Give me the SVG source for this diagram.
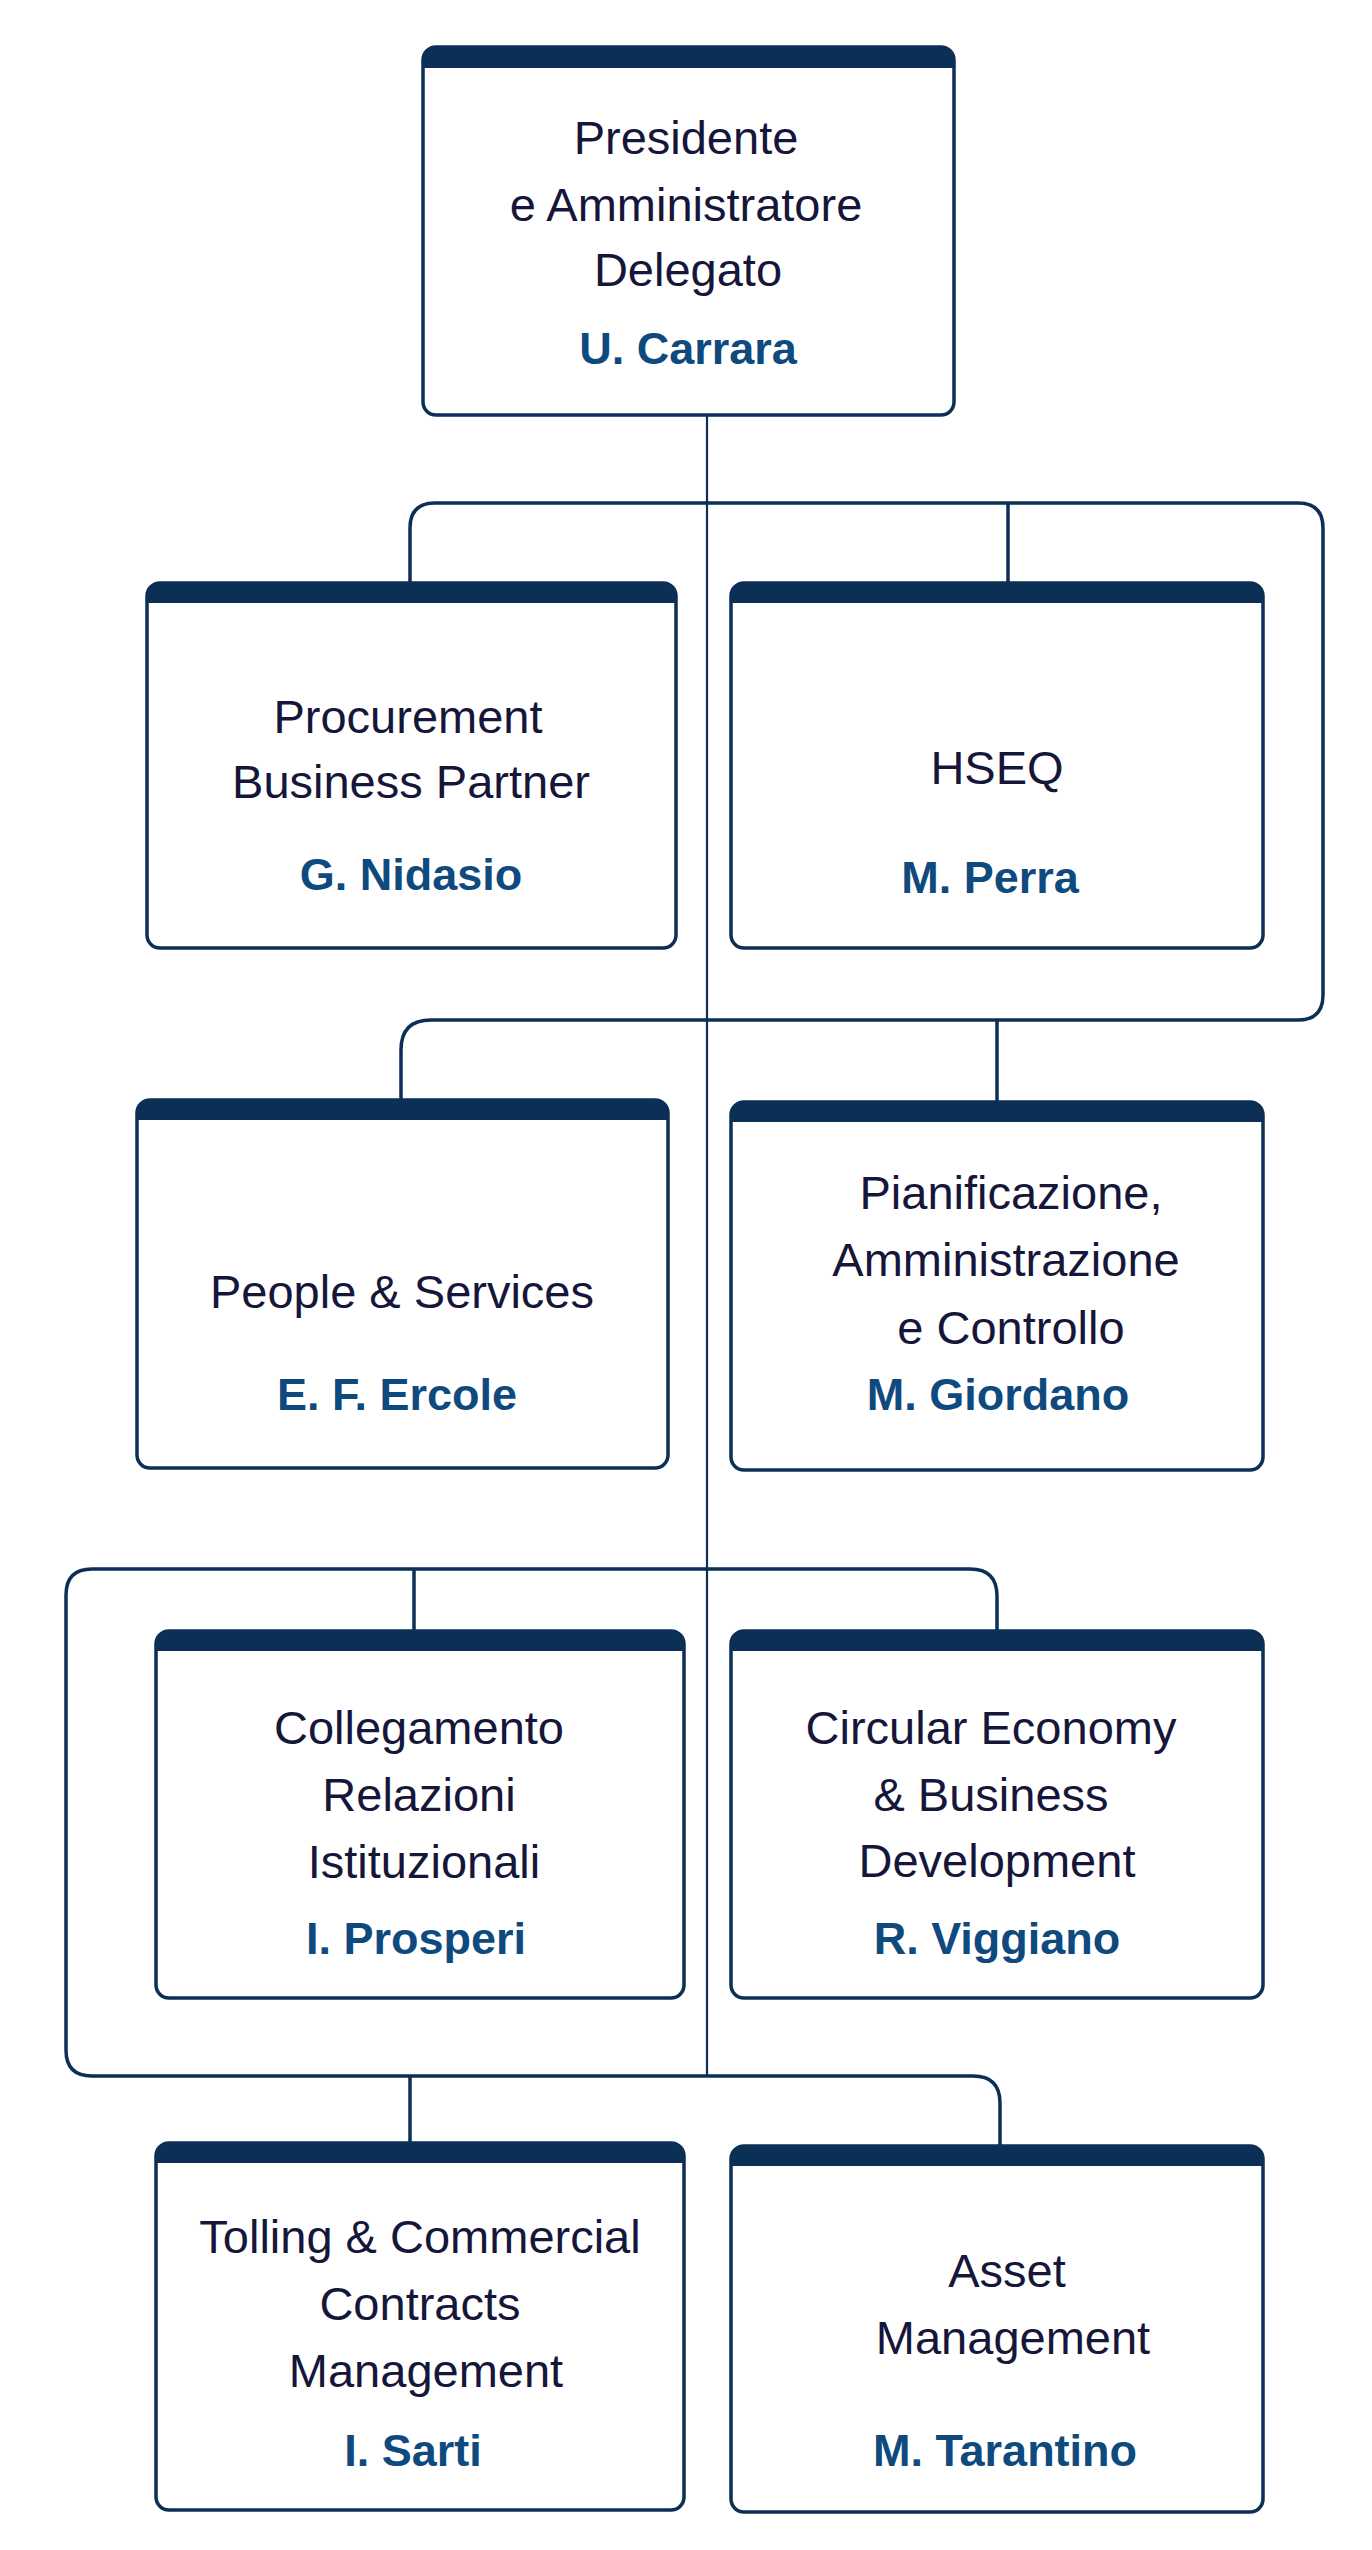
<svg xmlns="http://www.w3.org/2000/svg" width="1372" height="2550" viewBox="0 0 1372 2550">
<style>
.box{fill:#ffffff;stroke:#0b2f55;stroke-width:3.5}
.hdr{fill:#0b2f55}
.lbl{font-family:"Liberation Sans",Arial,sans-serif;font-size:47px;fill:#16163a;text-anchor:middle}
.nm{font-family:"Liberation Sans",Arial,sans-serif;font-size:45px;font-weight:bold;fill:#0f4a7e;text-anchor:middle}
.ln{fill:none;stroke:#0b2f55;stroke-width:3.5}
.main{fill:none;stroke:#0b2f55;stroke-width:2.2}
</style>
<rect width="1372" height="2550" fill="#ffffff"/>
<g id="connectors">
<path class="main" d="M707,415 V2076"/>
<path class="ln" d="M410,583 V528 Q410,503 435,503 H1298 Q1323,503 1323,528 V995 Q1323,1020 1298,1020 H431 Q401,1020 401,1050 V1100"/>
<path class="ln" d="M1008,503 V583"/>
<path class="ln" d="M997,1020 V1102"/>
<path class="ln" d="M414,1569 V1631"/>
<path class="ln" d="M997,1631 V1596 Q997,1569 970,1569 H92 Q66,1569 66,1595 V2050 Q66,2076 92,2076 H973 Q1000,2076 1000,2103 V2146"/>
<path class="ln" d="M410,2076 V2143"/>
</g>
<g id="n-presidente">
<rect class="box" x="423" y="47" width="531" height="368" rx="13"/>
<path class="hdr" d="M423,68 V60 Q423,47 436,47 H941 Q954,47 954,60 V68 Z"/>
<text class="lbl" x="686" y="154">Presidente</text>
<text class="lbl" x="686" y="221">e Amministratore</text>
<text class="lbl" x="688" y="286">Delegato</text>
<text class="nm" x="688" y="364">U. Carrara</text>
</g>
<g id="n-procurement">
<rect class="box" x="147" y="583" width="529" height="365" rx="13"/>
<path class="hdr" d="M147,603 V596 Q147,583 160,583 H663 Q676,583 676,596 V603 Z"/>
<text class="lbl" x="408" y="733">Procurement</text>
<text class="lbl" x="411" y="798">Business Partner</text>
<text class="nm" x="411" y="890">G. Nidasio</text>
</g>
<g id="n-hseq">
<rect class="box" x="731" y="583" width="532" height="365" rx="13"/>
<path class="hdr" d="M731,603 V596 Q731,583 744,583 H1250 Q1263,583 1263,596 V603 Z"/>
<text class="lbl" x="997" y="784">HSEQ</text>
<text class="nm" x="990" y="893">M. Perra</text>
</g>
<g id="n-people">
<rect class="box" x="137" y="1100" width="531" height="368" rx="13"/>
<path class="hdr" d="M137,1120 V1113 Q137,1100 150,1100 H655 Q668,1100 668,1113 V1120 Z"/>
<text class="lbl" x="402" y="1308">People &amp; Services</text>
<text class="nm" x="397" y="1410">E. F. Ercole</text>
</g>
<g id="n-pianificazione">
<rect class="box" x="731" y="1102" width="532" height="368" rx="13"/>
<path class="hdr" d="M731,1122 V1115 Q731,1102 744,1102 H1250 Q1263,1102 1263,1115 V1122 Z"/>
<text class="lbl" x="1011" y="1209">Pianificazione,</text>
<text class="lbl" x="1006" y="1276">Amministrazione</text>
<text class="lbl" x="1011" y="1344">e Controllo</text>
<text class="nm" x="998" y="1410">M. Giordano</text>
</g>
<g id="n-collegamento">
<rect class="box" x="156" y="1631" width="528" height="367" rx="13"/>
<path class="hdr" d="M156,1651 V1644 Q156,1631 169,1631 H671 Q684,1631 684,1644 V1651 Z"/>
<text class="lbl" x="419" y="1744">Collegamento</text>
<text class="lbl" x="419" y="1811">Relazioni</text>
<text class="lbl" x="424" y="1878">Istituzionali</text>
<text class="nm" x="416" y="1954">I. Prosperi</text>
</g>
<g id="n-circular">
<rect class="box" x="731" y="1631" width="532" height="367" rx="13"/>
<path class="hdr" d="M731,1651 V1644 Q731,1631 744,1631 H1250 Q1263,1631 1263,1644 V1651 Z"/>
<text class="lbl" x="991" y="1744">Circular Economy</text>
<text class="lbl" x="991" y="1811">&amp; Business</text>
<text class="lbl" x="997" y="1877">Development</text>
<text class="nm" x="997" y="1954">R. Viggiano</text>
</g>
<g id="n-tolling">
<rect class="box" x="156" y="2143" width="528" height="367" rx="13"/>
<path class="hdr" d="M156,2163 V2156 Q156,2143 169,2143 H671 Q684,2143 684,2156 V2163 Z"/>
<text class="lbl" x="420" y="2253">Tolling &amp; Commercial</text>
<text class="lbl" x="420" y="2320">Contracts</text>
<text class="lbl" x="426" y="2387">Management</text>
<text class="nm" x="413" y="2466">I. Sarti</text>
</g>
<g id="n-asset">
<rect class="box" x="731" y="2146" width="532" height="366" rx="13"/>
<path class="hdr" d="M731,2166 V2159 Q731,2146 744,2146 H1250 Q1263,2146 1263,2159 V2166 Z"/>
<text class="lbl" x="1007" y="2287">Asset</text>
<text class="lbl" x="1013" y="2354">Management</text>
<text class="nm" x="1005" y="2466">M. Tarantino</text>
</g>
</svg>
